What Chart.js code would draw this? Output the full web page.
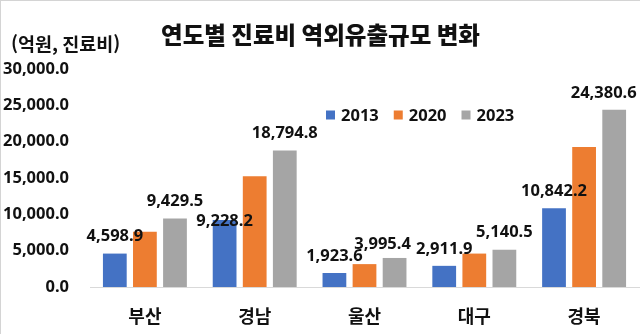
<!DOCTYPE html>
<html lang="ko">
<head>
<meta charset="utf-8">
<script src="https://cdn.jsdelivr.net/npm/chart.js@4.4.1/dist/chart.umd.min.js"></script>
<style>
  html, body { margin: 0; padding: 0; background: #ffffff; }
  #wrap { position: relative; width: 640px; height: 334px; box-sizing: border-box;
          border-top: 1px solid #d4d4d4; border-left: 1px solid #d4d4d4; }
  canvas { display: block; }
</style>
</head>
<body>
<div id="wrap"><canvas id="chart" width="639" height="333"></canvas></div>
<script>
// 지역별 진료비 역외유출 규모 (억원)
const regions = ['부산', '경남', '울산', '대구', '경북'];
const years = ['2013', '2020', '2023'];
const values2013 = [4598.9, 9228.2, 1923.6, 2911.9, 10842.2];
const values2020 = [7600, 15250, 3150, 4600, 19250];
const values2023 = [9429.5, 18794.8, 3995.4, 5140.5, 24380.6];
const yTicks = [0, 5000, 10000, 15000, 20000, 25000, 30000];

const colors = ['#4472C4', '#ED7D31', '#A5A5A5'];
const textColor = '#111111';
const numFont = '"Noto Sans", "Noto Sans CJK KR", sans-serif';
const krFont = '"Noto Sans CJK KR", "Noto Sans", sans-serif';

const fmt = v => v.toLocaleString('en-US', { minimumFractionDigits: 1, maximumFractionDigits: 1 });

// 제목, 단위, 범례, 값 레이블을 그리는 플러그인
const decorations = {
  id: 'decorations',
  afterDatasetsDraw(chart, args, opts) {
    const ctx = chart.ctx;
    ctx.save();
    ctx.fillStyle = textColor;

    // 제목
    ctx.font = '900 23.5px ' + krFont;
    ctx.textAlign = 'center';
    ctx.textBaseline = 'middle';
    ctx.fillText('연도별 진료비 역외유출규모 변화', chart.width / 2, 34);

    // 단위
    ctx.font = 'bold 18.5px ' + krFont;
    ctx.textAlign = 'left';
    ctx.fillText('(억원, 진료비)', 10, 43);

    // 범례
    ctx.font = 'bold 16.5px ' + numFont;
    let x = opts.legendX;
    const ly = opts.legendY;
    chart.data.datasets.forEach(ds => {
      ctx.fillStyle = ds.backgroundColor;
      ctx.fillRect(x, ly - 4.5, 9, 9);
      ctx.fillStyle = textColor;
      ctx.textAlign = 'left';
      ctx.fillText(ds.label, x + 15, ly + 1);
      x += 15 + ctx.measureText(ds.label).width + 15;
    });

    // 값 레이블 (2013, 2023)
    ctx.font = 'bold 16.5px ' + numFont;
    ctx.textAlign = 'center';
    chart.data.datasets.forEach((ds, di) => {
      if (!opts.labelled.includes(di)) return;
      const meta = chart.getDatasetMeta(di);
      meta.data.forEach((bar, i) => {
        const nudge = (opts.nudges[di] && opts.nudges[di][i]) || [0, 0];
        ctx.fillText(fmt(ds.data[i]), bar.x + nudge[0], bar.y - 17 + nudge[1]);
      });
    });
    ctx.restore();
  }
};

new Chart(document.getElementById('chart'), {
  type: 'bar',
  data: {
    labels: regions,
    datasets: [
      { label: years[0], data: values2013, backgroundColor: colors[0] },
      { label: years[1], data: values2020, backgroundColor: colors[1] },
      { label: years[2], data: values2023, backgroundColor: colors[2] }
    ]
  },
  options: {
    responsive: false,
    animation: false,
    events: [],
    layout: { padding: { top: 68, right: 1, left: 0, bottom: 0 } },
    datasets: { bar: { barPercentage: 0.79, categoryPercentage: 0.822 } },
    plugins: {
      legend: { display: false },
      title: { display: false },
      tooltip: { enabled: false },
      decorations: {
        legendX: 325,
        legendY: 114,
        labelled: [0, 2],
        nudges: {
          0: { 1: [0, 18] },
          2: { 2: [-12, 3], 4: [-10.5, 0] }
        }
      }
    },
    scales: {
      x: {
        grid: { display: false, drawTicks: false },
        border: { display: true, color: '#D9D9D9', width: 1 },
        ticks: { color: textColor, padding: 18, font: { family: krFont, size: 18, weight: 'bold' } },
        afterFit(scale) { scale.height = 47; }
      },
      y: {
        min: 0,
        max: 30000,
        afterBuildTicks(scale) { scale.ticks = yTicks.map(v => ({ value: v })); },
        grid: { display: false, drawTicks: false },
        border: { display: false },
        ticks: {
          color: textColor,
          padding: 21,
          font: { family: numFont, size: 16.5, weight: 'bold' },
          callback: v => fmt(v)
        },
        afterFit(scale) { scale.width = 89; }
      }
    }
  },
  plugins: [decorations]
});
</script>
</body>
</html>
